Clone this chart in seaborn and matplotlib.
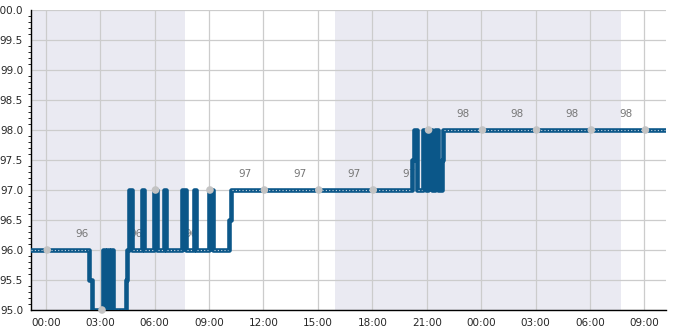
import numpy as np
import pandas as pd
import matplotlib
matplotlib.use("Agg")
import matplotlib.pyplot as plt
import matplotlib.dates as mdates
import seaborn as sns

# ---- data (hours relative to 00:00 of day 1) ----
step_hours = [-0.85, 2.40, 2.55, 3.15, 3.28, 3.38, 3.50, 3.60, 3.72, 4.42, 4.50,
              4.60, 4.75, 5.32, 5.42, 5.95, 6.12, 6.50, 6.62, 7.50, 7.75, 8.18,
              8.28, 9.00, 9.20, 10.10, 10.22, 20.20, 20.30, 20.47, 20.80, 20.96,
              21.05, 21.30, 21.45, 21.60, 21.85, 21.90, 34.20]
step_values = [96, 95.5, 95, 96, 95, 96, 95, 96, 95, 95.5, 96,
               97, 96, 97, 96, 97, 96, 97, 96, 97, 96, 97,
               96, 97, 96, 96.5, 97, 97.5, 98, 97, 98, 97,
               98, 97, 98, 97, 97.5, 98, 98]

marker_hours = [0.08, 3.1, 6.05, 9.05, 12.05, 15.05, 18.05, 21.1, 24.07, 27.05, 30.07, 33.05]
marker_values = [96, 95, 97, 97, 97, 97, 97, 98, 98, 98, 98, 98]

label_hours = [2, 5, 8, 11, 14, 17, 20, 23, 26, 29, 32]
label_values = [96, 96, 96, 97, 97, 97, 97, 98, 98, 98, 98]

night_spans = [(-0.85, 7.67), (15.95, 31.7)]
x_limits = (-0.83, 34.17)

base = pd.Timestamp("2024-01-01 00:00")
def to_time(h):
    return base + pd.to_timedelta(np.asarray(h, dtype=float), unit="h")

line_df = pd.DataFrame({"time": to_time(step_hours), "value": step_values})
marker_df = pd.DataFrame({"time": to_time(marker_hours), "value": marker_values})

sns.set_style("white")
plt.rcParams["font.family"] = ["DejaVu Sans"]

fig = plt.figure(figsize=(6.85, 3.3), dpi=100)
ax = fig.add_axes([30.7 / 685, 20 / 330, (665.7 - 30.7) / 685, 300 / 330])

for a, b in night_spans:
    ax.axvspan(to_time(a), to_time(b), color="#eaeaf2", zorder=0, lw=0)

ax.grid(True, color="#cccccc", lw=0.9, zorder=1)
ax.set_axisbelow(True)

for h, v in zip(label_hours, label_values):
    ax.text(to_time(h), v + 0.27, f"{v}", ha="center", va="center",
            fontsize=7.5, color="#777777", zorder=2)

sns.lineplot(data=line_df, x="time", y="value", ax=ax, drawstyle="steps-post",
             color="#0b5789", lw=3.3, zorder=3)

# light dotted sample pattern along the longer flat runs
for i in range(len(step_hours) - 1):
    h0, h1 = step_hours[i], step_hours[i + 1]
    if h1 - h0 > 0.25:
        ax.hlines(step_values[i], to_time(h0 + 0.05), to_time(h1 - 0.05),
                  colors="#c9d6e0", lw=0.8, linestyles=(0, (1, 2)), zorder=4)

sns.scatterplot(data=marker_df, x="time", y="value", ax=ax, color="#c3c3c3",
                s=30, edgecolor="none", zorder=5, clip_on=False)

ax.set_xlim(to_time(x_limits[0]), to_time(x_limits[1]))
ax.set_ylim(95, 100)
ax.set_yticks(np.arange(95, 100.01, 0.5))
ax.yaxis.set_major_formatter(matplotlib.ticker.FormatStrFormatter("%.1f"))
ax.yaxis.set_minor_locator(matplotlib.ticker.MultipleLocator(0.1))
ax.xaxis.set_major_locator(mdates.HourLocator(byhour=range(0, 24, 3)))
ax.xaxis.set_major_formatter(mdates.DateFormatter("%H:%M"))

ax.set_xlabel("")
ax.set_ylabel("")
for s in ["top", "right"]:
    ax.spines[s].set_visible(False)
for s in ["left", "bottom"]:
    ax.spines[s].set_color("black")
    ax.spines[s].set_linewidth(1.0)

ax.tick_params(axis="both", which="major", direction="out", length=3.5,
               width=0.8, labelsize=7.5, color="black", pad=2)
ax.tick_params(axis="y", which="minor", direction="out", length=2.5, width=0.6,
               color="black", left=True)

fig.savefig("out.png", dpi=100)
